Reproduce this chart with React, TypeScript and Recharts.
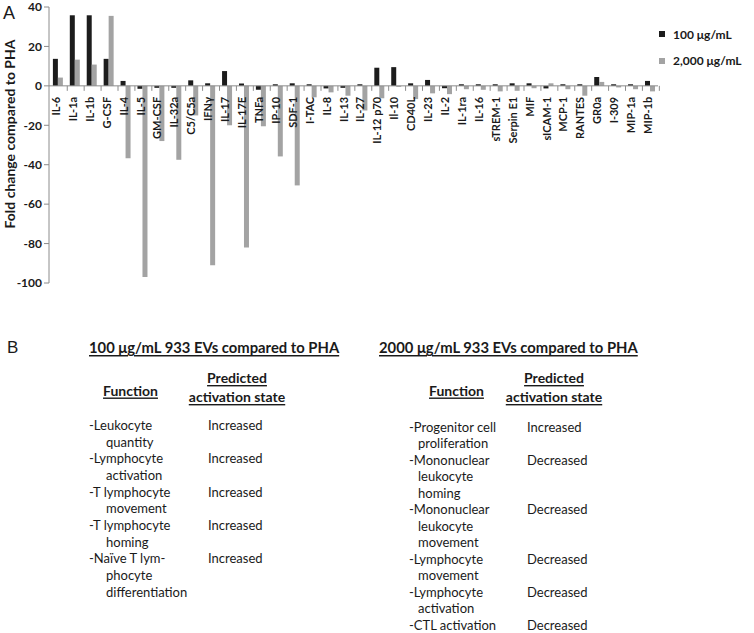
import React from "react";
import { BarChart, Bar, XAxis, YAxis, ReferenceLine, ReferenceDot, Legend, Label } from "recharts";

// ---------- Panel A data ----------
const categories = [
  "IL-6", "IL-1a", "IL-1b", "G-CSF", "IL-4", "IL-5", "GM-CSF", "IL-32a", "C5/C5a", "IFNγ",
  "IL-17", "IL-17E", "TNFa", "IP-10", "SDF-1", "I-TAC", "IL-8", "IL-13", "IL-27", "IL-12 p70",
  "Il-10", "CD40L", "IL-23", "IL-2", "IL-1ra", "IL-16", "sTREM-1", "Serpin E1", "MIF", "sICAM-1",
  "MCP-1", "RANTES", "GR0a", "I-309", "MIP-1a", "MIP-1b",
];
const dose100 = [
  13.7, 35.8, 35.8, 13.7, 2.5, -1.5, -1, -1, 2.8, 1.3,
  7.5, 1.2, -2, 0.8, 1.3, 0.8, -1.3, -1, 0.8, 9.2,
  9.5, 1.3, 3.0, -1.2, 0.8, 0.8, 0.8, 1.3, 1.3, -1.3,
  0.8, 0.8, 4.5, 0.8, 0.8, 2.5,
];
const dose2000 = [
  4.2, 13.3, 10.8, 35.5, -36.7, -97, -28, -37.5, -15, -91,
  -20, -82, -20.5, -35.8, -50.5, -5.8, -3.3, -5, -12.5, -6.3,
  -0.5, -6.7, -3.8, -4.2, -1.7, -2, -2.8, -2.5, -1.2, 1.3,
  -1.7, -5, 2.0, -0.8, -1.7, -2.8,
];
const seriesNames = ["100 μg/mL", "2,000 μg/mL"];
const yTicks = [40, 20, 0, -20, -40, -60, -80, -100];
const yLabel = "Fold change compared to PHA";

// ---------- Panel B text ----------
const leftTitle = "100 μg/mL 933 EVs compared to PHA";
const rightTitle = "2000 μg/mL 933 EVs compared to PHA";
const headFunction = "Function";
const headPredicted = ["Predicted", "activation state"];
const leftFunctions = [
  ["-Leukocyte", "quantity"],
  ["-Lymphocyte", "activation"],
  ["-T lymphocyte", "movement"],
  ["-T lymphocyte", "homing"],
  ["-Naïve T lym-", "phocyte", "differentiation"],
];
const leftStates = ["Increased", "Increased", "Increased", "Increased", "Increased"];
const rightFunctions = [
  ["-Progenitor cell", "proliferation"],
  ["-Mononuclear", "leukocyte", "homing"],
  ["-Mononuclear", "leukocyte", "movement"],
  ["-Lymphocyte", "movement"],
  ["-Lymphocyte", "activation"],
  ["-CTL activation"],
];
const rightStates = ["Increased", "Decreased", "Decreased", "Decreased", "Decreased", "Decreased"];

// ---------- layout / style ----------
const FONT = "Lato, 'Open Sans', sans-serif";
const CHART_W = 754;
const CHART_H = 290;
const Y_W = 49;
const BAND = (CHART_W - Y_W) / categories.length;
const BLACK = "#1c1c1c";
const GRAY = "#a3a3a3";
const AXIS = "#8c8c8c";
const TEXT = "#1a1a1a";

const data = categories.map((name, i) => ({ name, d100: dose100[i], d2000: dose2000[i] }));

function CatLabel({ cx, cy, value }: any) {
  const x = Number(cx);
  const y = Number(cy);
  if (!isFinite(x) || !isFinite(y)) return null;
  return (
    <g>
      <line x1={x + BAND / 2} x2={x + BAND / 2} y1={y} y2={y + 5} stroke={AXIS} strokeWidth={1} />
      <text
        transform={`translate(${x - 2},${y + 11}) rotate(-90)`}
        textAnchor="end"
        dominantBaseline="central"
        fontFamily={FONT}
        fontWeight="bold"
        fontSize={11}
        fill={TEXT}
      >
        {value}
      </text>
    </g>
  );
}

function LegendContent(props: any) {
  const payload = props.payload || [];
  return (
    <div style={{ position: "relative", width: 96, height: 60 }}>
      {payload.map((p: any, i: number) => (
        <div
          key={i}
          style={{
            position: "absolute",
            left: 0,
            top: i * 26.7,
            height: 14,
            display: "flex",
            alignItems: "center",
            fontFamily: FONT,
            fontWeight: "bold",
            fontSize: 12,
            color: TEXT,
            whiteSpace: "nowrap",
          }}
        >
          <span style={{ display: "inline-block", width: 6, height: 6, background: p.color, marginRight: 8 }} />
          {p.value}
        </div>
      ))}
    </div>
  );
}

function YLabelContent() {
  return (
    <text
      transform={`translate(9,134) rotate(-90)`}
      textAnchor="middle"
      dominantBaseline="central"
      fontFamily={FONT}
      fontWeight="bold"
      fontSize={14}
      fill={TEXT}
    >
      {yLabel}
    </text>
  );
}

function FunctionTable({ title, titleX, states, functions, fnX, indent, stateX, fnHeadX, predX, startY, lineH }: any) {
  let line = 0;
  const rows: any[] = [];
  functions.forEach((lines: string[], i: number) => {
    lines.forEach((t, j) => {
      rows.push(
        <text key={`f${i}-${j}`} x={j === 0 ? fnX : fnX + indent} y={startY + (line + j) * lineH} dominantBaseline="central" fontSize={13}>
          {t}
        </text>
      );
    });
    rows.push(
      <text key={`s${i}`} x={stateX} y={startY + line * lineH} dominantBaseline="central" fontSize={13}>
        {states[i]}
      </text>
    );
    line += lines.length;
  });
  return (
    <g fontFamily={FONT} fill={TEXT}>
      <text x={titleX} y={347} dominantBaseline="central" fontSize={14.8} fontWeight="bold" textDecoration="underline">
        {title}
      </text>
      <text x={fnHeadX} y={390} textAnchor="middle" dominantBaseline="central" fontSize={14} fontWeight="bold" textDecoration="underline">
        {headFunction}
      </text>
      <text x={predX} y={377.5} textAnchor="middle" dominantBaseline="central" fontSize={14} fontWeight="bold" textDecoration="underline">
        {headPredicted[0]}
      </text>
      <text x={predX} y={396.5} textAnchor="middle" dominantBaseline="central" fontSize={14} fontWeight="bold" textDecoration="underline">
        {headPredicted[1]}
      </text>
      {rows}
    </g>
  );
}

export default function App() {
  return (
    <div style={{ position: "absolute", left: 0, top: 0, width: 754, height: 633, background: "#fff" }}>
      <div style={{ position: "absolute", left: 0, top: 0 }}>
        <BarChart
          width={CHART_W}
          height={CHART_H}
          data={data}
          margin={{ top: 7, right: 0, bottom: 7, left: 0 }}
          barCategoryGap="23%"
          barGap={0}
        >
          <XAxis dataKey="name" hide />
          <YAxis
            width={Y_W}
            domain={[-100, 40]}
            ticks={yTicks}
            interval={0}
            axisLine={{ stroke: AXIS }}
            tickLine={{ stroke: AXIS }}
            tickSize={5}
            tick={{ fontFamily: FONT, fontWeight: "bold", fontSize: 12, fill: TEXT }}
          >
            <Label content={YLabelContent} />
          </YAxis>
          <Legend
            layout="vertical"
            verticalAlign="top"
            align="right"
            content={LegendContent}
            wrapperStyle={{ position: "absolute", left: 659, top: 27, width: 96 }}
          />
          <Bar dataKey="d100" name={seriesNames[0]} fill={BLACK} isAnimationActive={false} />
          <Bar dataKey="d2000" name={seriesNames[1]} fill={GRAY} isAnimationActive={false} />
          <ReferenceLine y={0} stroke={AXIS} strokeWidth={1} />
          {categories.map((name) => (
            <ReferenceDot
              key={name}
              x={name}
              y={0}
              r={0}
              ifOverflow="visible"
              shape={(p: any) => <CatLabel cx={p.cx} cy={p.cy} value={name} />}
            />
          ))}
        </BarChart>
      </div>
      <svg width={754} height={633} style={{ position: "absolute", left: 0, top: 0, pointerEvents: "none" }}>
        <text x={3} y={13} dominantBaseline="central" fontFamily="'Liberation Sans', Arial, sans-serif" fontSize={18} fill={TEXT}>A</text>
        <text x={7} y={347} dominantBaseline="central" fontFamily="'Liberation Sans', Arial, sans-serif" fontSize={17} fill={TEXT}>B</text>
        <FunctionTable
          title={leftTitle}
          titleX={89}
          functions={leftFunctions}
          states={leftStates}
          fnX={89}
          indent={17}
          stateX={208}
          fnHeadX={130.5}
          predX={237}
          startY={425}
          lineH={16.67}
        />
        <FunctionTable
          title={rightTitle}
          titleX={379}
          functions={rightFunctions}
          states={rightStates}
          fnX={409}
          indent={9}
          stateX={527}
          fnHeadX={456.5}
          predX={554}
          startY={426.7}
          lineH={16.5}
        />
      </svg>
    </div>
  );
}
